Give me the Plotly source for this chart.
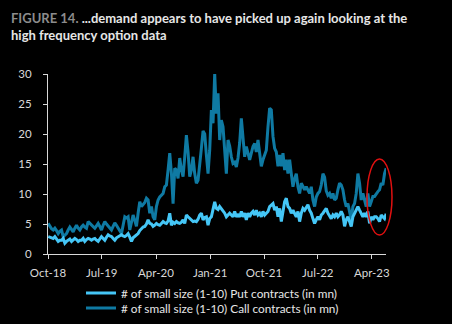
import pandas as pd
import plotly.graph_objects as go

put_values = [
    2.9, 2.8, 2.7, 2.6, 2.9, 2.4, 2.1, 2.3, 2.3, 2.6, 1.8, 2.1, 2.3, 2.5, 2.1, 2.3, 2.6, 2.4, 2.1, 2.3,
    2.3, 2.6, 2.1, 2.4, 2.6, 2.5, 2.3, 2.5, 2.6, 2.3, 2.1, 2.5, 2.9, 2.6, 2.3, 2.8, 3.2, 3.0, 2.9, 2.6,
    2.3, 2.7, 2.9, 3.1, 3.2, 3.0, 2.9, 3.1, 3.4, 2.8, 2.1, 2.7, 2.9, 3.1, 3.4, 3.9, 4.3, 4.5, 4.6, 5.0,
    5.7, 5.1, 5.0, 4.6, 4.8, 5.1, 4.9, 4.8, 5.1, 5.4, 5.2, 5.1, 5.5, 6.8, 4.8, 5.3, 5.1, 5.4, 5.2, 5.1,
    5.3, 5.7, 5.1, 6.5, 6.2, 5.9, 5.7, 5.4, 5.5, 5.4, 5.8, 6.5, 6.8, 5.7, 6.1, 6.2, 4.8, 5.9, 6.2, 7.3,
    8.7, 7.6, 7.4, 7.9, 7.5, 7.3, 6.8, 6.2, 6.6,
    6.8, 6.5, 6.2, 7.1, 6.2, 6.5, 6.2, 7.1, 6.2, 6.8, 5.7, 6.8, 6.2, 6.8, 7.1, 6.5, 7.3, 6.5, 6.8, 6.2,
    7.1, 6.5, 6.8, 7.1, 7.9, 8.2, 8.4, 7.3, 7.9, 6.2, 7.6, 5.4, 6.8, 8.7, 9.3, 7.9, 7.6, 6.8, 7.3, 6.8,
    6.2, 7.1, 5.4, 6.8, 7.6, 7.3, 7.9, 8.2, 7.3, 6.8, 5.9, 5.1, 5.7, 6.2, 5.7, 6.5, 6.8, 7.3, 7.6, 6.8,
    6.2, 5.9, 6.5, 6.2, 6.8, 6.2, 6.5, 7.1, 6.5, 4.6, 5.7, 6.2, 5.4, 4.6, 6.2, 6.8, 7.3, 7.9, 7.3, 6.8,
    6.2, 6.8, 6.2, 7.1, 5.1, 6.2, 5.7, 6.2, 6.2, 5.9, 5.4, 6.5, 6.2, 5.9, 6.7,
]

call_values = [
    5.1, 4.6, 4.2, 4.0, 4.3, 3.9, 3.4, 3.8, 4.0, 2.9, 3.2, 3.4, 4.0, 4.5, 4.1, 3.7, 4.3, 4.8, 4.3, 4.0,
    4.5, 4.8, 4.5, 4.3, 5.4, 5.1, 4.8, 4.5, 4.3, 4.7, 5.1, 4.6, 4.0, 4.8, 5.4, 5.0, 4.6, 4.3, 4.0, 4.6,
    5.2, 4.8, 4.3, 3.8, 3.4, 4.8, 6.2, 6.0, 6.2, 4.0, 5.2, 6.5, 5.6, 4.6, 6.8, 8.7, 7.9, 8.2, 8.6, 9.3,
    9.0, 6.8, 7.9, 6.2, 5.7, 7.9, 9.0, 9.5, 9.8, 10.1, 11.2, 11.5, 14.0, 16.8, 13.5, 8.4, 14.3, 14.0, 12.6, 16.0,
    14.0, 12.9, 16.2, 19.8, 17.0, 12.9, 14.0, 16.2, 13.4, 11.8, 12.3, 15.7, 17.6, 20.5, 20.0, 16.5, 13.4, 17.3, 24.0, 21.8,
    30.0, 23.4, 26.8, 19.0, 22.3, 21.2, 17.9, 13.4, 19.0,
    18.0, 16.2, 15.1, 15.3, 14.5, 16.0, 18.5, 22.6, 19.6, 16.2, 17.9, 16.8, 15.7, 16.8, 17.9, 18.4, 17.0, 19.0, 16.2, 14.6,
    15.7, 16.5, 17.3, 21.2, 24.3, 24.0, 19.6, 17.6, 17.0, 14.6, 16.5, 14.6, 16.8, 14.0, 15.7, 13.4, 15.7, 13.4, 11.2, 12.5,
    13.4, 11.2, 10.1, 11.8, 11.2, 10.7, 11.2, 10.5, 10.1, 11.2, 9.0, 7.9, 9.5, 10.1, 10.4, 11.5, 13.4, 12.8, 10.5, 9.8,
    10.1, 9.3, 10.1, 9.0, 9.3, 10.7, 11.8, 11.5, 10.7, 9.0, 7.9, 8.4, 6.8, 5.7, 7.9, 8.4, 10.1, 13.4, 11.8, 9.0,
    10.1, 9.0, 7.9, 10.1, 7.9, 8.7, 9.6, 9.6, 10.1, 10.4, 10.7, 11.8, 11.5, 13.4, 14.3,
]

start_date = "2018-10-02"
end_date = "2023-06-13"
dates = pd.date_range(start_date, end_date, periods=len(call_values))

tick_dates = ["2018-10-01", "2019-07-01", "2020-04-01", "2021-01-01",
              "2021-10-01", "2022-07-01", "2023-04-01"]
tick_labels = ["Oct-18", "Jul-19", "Apr-20", "Jan-21", "Oct-21", "Jul-22", "Apr-23"]
y_ticks = [0, 5, 10, 15, 20, 25, 30]

put_name = "# of small size (1-10) Put contracts (in mn)"
call_name = "# of small size (1-10) Call contracts (in mn)"

FONT = "Lato, 'Open Sans', sans-serif"
AXIS_COL = "#d9d9d9"
PUT_COL = "#45c6f6"
CALL_COL = "#0f7aa3"

fig = go.Figure()
fig.add_trace(go.Scatter(x=dates, y=call_values, mode="lines", name=call_name,
                         line=dict(color=CALL_COL, width=3), legend="legend2",
                         showlegend=True))
fig.add_trace(go.Scatter(x=dates, y=put_values, mode="lines", name=put_name,
                         line=dict(color=PUT_COL, width=3), legend="legend",
                         showlegend=True))

fig.add_annotation(
    text="<b><span style='color:#8c8c8c'>FIGURE 14.</span> ...demand appears to have picked up again looking at the<br>high frequency option data</b>",
    xref="paper", yref="paper", x=-39 / 338, y=1 + (74 - 8) / 180,
    xanchor="left", yanchor="top", align="left", showarrow=False,
    font=dict(family=FONT, size=13, color="#e6e6e6"),
)

legend_common = dict(
    orientation="v", x=81 / 452, xanchor="left", xref="container",
    yanchor="middle", yref="container",
    bgcolor="rgba(0,0,0,0)", font=dict(family=FONT, size=11.8, color="#e6e6e6"),
    tracegroupgap=0, itemwidth=30,
)

fig.update_layout(
    width=452, height=324,
    paper_bgcolor="black", plot_bgcolor="black",
    showlegend=True,
    margin=dict(l=48, r=66, t=74, b=70, autoexpand=False),
    font=dict(family=FONT, color="#e0e0e0", size=11),
    legend=dict(legend_common, y=1 - 293 / 324),
    legend2=dict(legend_common, y=1 - 308 / 324),
    xaxis=dict(
        type="date", range=["2018-10-01", "2023-06-12"],
        tickvals=tick_dates, ticktext=tick_labels,
        showgrid=False, zeroline=False,
        showline=True, linecolor=AXIS_COL, linewidth=1,
        ticks="outside", ticklen=4, tickcolor=AXIS_COL,
        ticklabelstandoff=4,
        tickfont=dict(size=11.5, color="#d9d9d9"),
    ),
    yaxis=dict(
        range=[0, 30], tickvals=y_ticks,
        showgrid=False, zeroline=False,
        showline=True, linecolor=AXIS_COL, linewidth=1,
        ticks="outside", ticklen=4, tickcolor=AXIS_COL,
        ticklabelstandoff=9,
        tickfont=dict(size=11.5, color="#d9d9d9"),
    ),
    shapes=[dict(
        type="circle", xref="paper", yref="paper",
        x0=(367 - 48) / 338, x1=(392 - 48) / 338,
        y0=(254 - 235) / 180, y1=(254 - 159) / 180,
        line=dict(color="#e01010", width=1.5),
    )],
)

fig.write_html("out.html")
